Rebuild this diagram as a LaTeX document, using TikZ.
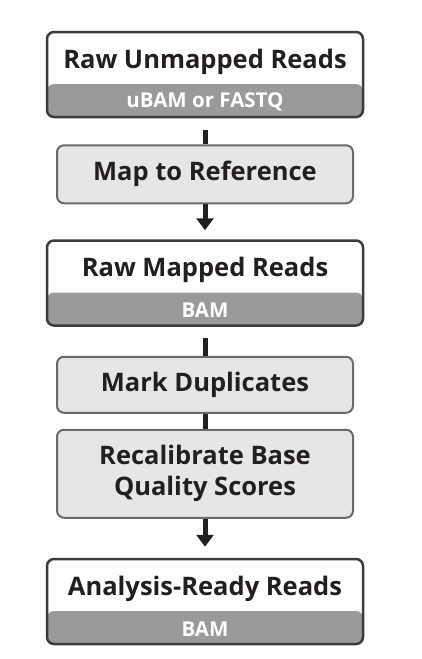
\documentclass[tikz,border=0pt]{standalone}
\usepackage{fontspec}
\setmainfont{Open Sans}
\usepackage{tikz}
\usetikzlibrary{positioning, arrows.meta}

\definecolor{inkblack}{HTML}{231F20}
\definecolor{edgedark}{HTML}{3C3C3C}
\definecolor{bandgray}{HTML}{9A9A9A}
\definecolor{stepfill}{HTML}{E6E6E6}
\definecolor{stepedge}{HTML}{6A6A6A}

\begin{document}
\begin{tikzpicture}[x=1pt, y=1pt, thick,
  data node/.style={rectangle, rounded corners=7pt, draw=edgedark, line width=2.5pt,
    fill=white, minimum width=316pt, minimum height=85pt, text height=18pt, text depth=31pt,
    text=inkblack, font=\bfseries\fontsize{25.5}{30}\selectfont,
    path picture={\fill[bandgray] ([yshift=33pt]path picture bounding box.south west)
      rectangle (path picture bounding box.south east);}},
  band text/.style={inner sep=0pt, text=white, font=\bfseries\fontsize{20.5}{24}\selectfont},
  tool node/.style={rectangle, rounded corners=7pt, draw=stepedge, line width=2pt,
    fill=stepfill, minimum width=296pt, minimum height=58pt, align=center,
    text=inkblack, font=\bfseries\fontsize{25.5}{31}\selectfont},
  link/.style={draw=inkblack, line width=5pt},
  flow/.style={link, -{Triangle[length=12pt, width=17pt]}}]

\useasboundingbox (0,0) rectangle (422,-659);

\node[data node] (raw) at (205,-74.5) {Raw Unmapped Reads};
\node[band text] (rawfmt) at ([yshift=16.5pt]raw.south) {uBAM or FASTQ};

\node[tool node] (map) [below=26pt of raw] {Map to Reference};

\node[data node] (mapped) [below=35pt of map] {Raw Mapped Reads};
\node[band text] (mappedfmt) at ([yshift=16.5pt]mapped.south) {BAM};

\node[tool node, minimum height=56pt] (dups) [below=29pt of mapped] {Mark Duplicates};
\node[tool node, minimum height=88pt] (bqsr) [below=15pt of dups] {Recalibrate Base\\Quality Scores};

\node[data node] (ready) [below=39pt of bqsr] {Analysis-Ready Reads};
\node[band text] (readyfmt) at ([yshift=16.5pt]ready.south) {BAM};

\draw[link, shorten <=12pt] (raw) -- (map);
\draw[flow, shorten >=9pt] (map) -- (mapped);
\draw[link, shorten <=11pt] (mapped) -- (dups);
\draw[link] (dups) -- (bqsr);
\draw[flow, shorten >=11pt] (bqsr) -- (ready);

\end{tikzpicture}
\end{document}
